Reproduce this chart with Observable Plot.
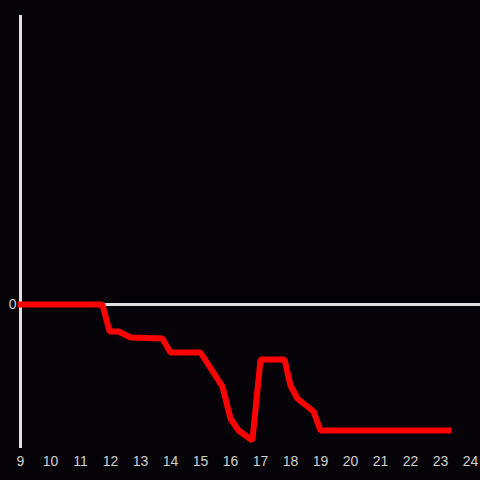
<!DOCTYPE html>
<html>
<head>
<meta charset="utf-8">
<script src="https://cdn.jsdelivr.net/npm/d3@7"></script>
<script src="https://cdn.jsdelivr.net/npm/@observablehq/plot@0.6"></script>
<style>
  html, body { margin: 0; padding: 0; background: #050307; }
  #chart { width: 480px; height: 480px; }
</style>
</head>
<body>
<div id="chart"></div>
<script>
const hours  = [9, 11.73, 11.97, 12.27, 12.67, 13.73, 14.0, 15.0, 15.73, 16.0, 16.27, 16.73, 17.0, 17.8, 18.0, 18.23, 18.77, 19.0, 23.27];
const values = [0, 0, -2.7, -2.7, -3.3, -3.4, -4.8, -4.8, -8.2, -11.4, -12.6, -13.6, -5.5, -5.5, -8.1, -9.4, -10.7, -12.6, -12.6];
const xTicks = [9, 10, 11, 12, 13, 14, 15, 16, 17, 18, 19, 20, 21, 22, 23, 24];
const yTicks = [0];

const data = hours.map((h, i) => ({hour: h, value: values[i]}));

const chart = Plot.plot({
  width: 480,
  height: 480,
  marginTop: 15,
  marginBottom: 32,
  marginLeft: 20,
  marginRight: 0,
  style: {background: "#050307", color: "#d0d0d0", fontFamily: "'Liberation Sans', Arial, sans-serif", fontSize: "14px"},
  x: {domain: [9, 24.333], ticks: xTicks, tickSize: 0, tickPadding: 8, label: null},
  y: {domain: [-14.4, 28.9], ticks: yTicks, tickSize: 0, tickPadding: 4, label: null},
  marks: [
    Plot.ruleX([9], {stroke: "#e0e0e0", strokeWidth: 3}),
    Plot.ruleY([0], {stroke: "#e0e0e0", strokeWidth: 3}),
    Plot.line(data, {x: "hour", y: "value", stroke: "#ff0000", strokeWidth: 6, strokeLinejoin: "miter", strokeLinecap: "square"})
  ]
});
document.getElementById("chart").appendChild(chart);
</script>
</body>
</html>
